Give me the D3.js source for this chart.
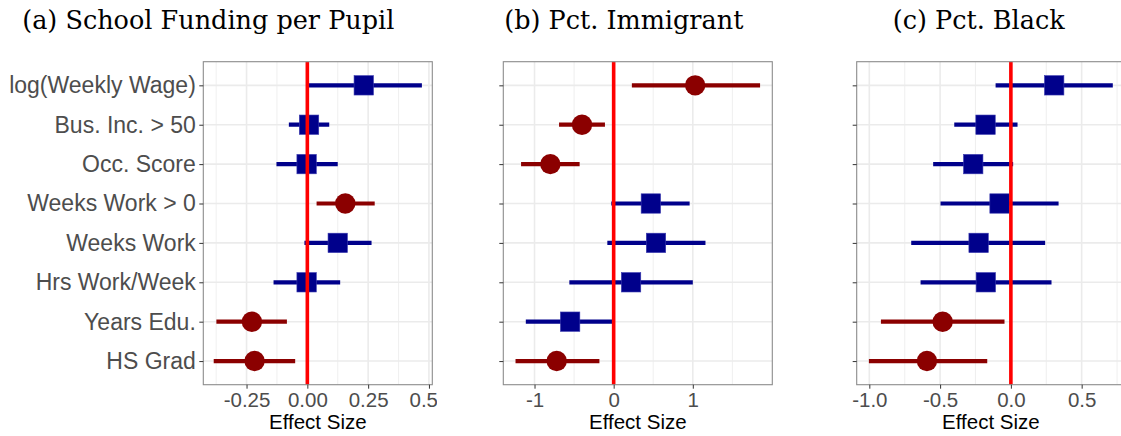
<!DOCTYPE html>
<html>
<head>
<meta charset="utf-8">
<script src="https://cdn.jsdelivr.net/npm/d3@7"></script>
<style>
  html, body { margin: 0; padding: 0; background: #fff; }
  svg { display: block; }
</style>
</head>
<body>
<svg id="chart"></svg>
<script>
const categories = [
  "log(Weekly Wage)", "Bus. Inc. > 50", "Occ. Score", "Weeks Work > 0",
  "Weeks Work", "Hrs Work/Week", "Years Edu.", "HS Grad"
];

// (a) School funding per pupil
const fundEst = [0.232, 0.007, -0.003, 0.156, 0.125, -0.003, -0.228, -0.217];
const fundLo = [-0.005, -0.076, -0.127, 0.038, -0.012, -0.139, -0.374, -0.385];
const fundHi = [0.471, 0.09, 0.125, 0.277, 0.264, 0.135, -0.084, -0.05];
const fundSig = [false, false, false, true, false, false, true, true];
const fundTicks = [-0.25, 0, 0.25, 0.5];
const fundTickLabels = ["-0.25", "0.00", "0.25", "0.50"];
const fundMinor = [-0.375, -0.125, 0.125, 0.375];

// (b) Pct. immigrant
const immEst = [1.03, -0.4, -0.8, 0.47, 0.535, 0.22, -0.55, -0.72];
const immLo = [0.23, -0.69, -1.17, -0.03, -0.08, -0.56, -1.11, -1.24];
const immHi = [1.85, -0.11, -0.43, 0.96, 1.16, 1.0, -0.01, -0.18];
const immSig = [true, true, true, false, false, false, false, true];
const immTicks = [-1, 0, 1];
const immTickLabels = ["-1", "0", "1"];
const immMinor = [-0.5, 0.5, 1.5];

// (c) Pct. black
const blackEst = [0.306, -0.179, -0.266, -0.08, -0.228, -0.177, -0.482, -0.593];
const blackLo = [-0.108, -0.4, -0.549, -0.497, -0.704, -0.638, -0.918, -1.003];
const blackHi = [0.72, 0.047, 0.016, 0.337, 0.242, 0.287, -0.045, -0.167];
const blackSig = [false, false, false, false, false, false, true, true];
const blackTicks = [-1, -0.5, 0, 0.5];
const blackTickLabels = ["-1.0", "-0.5", "0.0", "0.5"];
const blackMinor = [-0.75, -0.25, 0.25, 0.75];

const titles = ["(a) School Funding per Pupil", "(b) Pct. Immigrant", "(c) Pct. Black"];

const width = 1121;
const height = 436;
const plotTop = 61.7;
const plotBottom = 384.7;
const blue = "#00008B";
const red = "#8B0000";
const sans = "'Liberation Sans', Arial, Helvetica, sans-serif";

const panels = [
  { title: titles[0], est: fundEst, lo: fundLo, hi: fundHi, sig: fundSig,
    ticks: fundTicks, tickLabels: fundTickLabels, minor: fundMinor,
    left: 203.3, right: 432.3, titleX: 208.3, clipLeft: 0, clipRight: 437, showLabels: true },
  { title: titles[1], est: immEst, lo: immLo, hi: immHi, sig: immSig,
    ticks: immTicks, tickLabels: immTickLabels, minor: immMinor,
    left: 503.3, right: 772.3, titleX: 623.8, clipLeft: 440, clipRight: 790, showLabels: false },
  { title: titles[2], est: blackEst, lo: blackLo, hi: blackHi, sig: blackSig,
    ticks: blackTicks, tickLabels: blackTickLabels, minor: blackMinor,
    left: 856.7, right: 1125, titleX: 978.7, clipLeft: 790, clipRight: 1121, showLabels: false }
];

const svg = d3.select("#chart")
  .attr("width", width)
  .attr("height", height)
  .attr("viewBox", `0 0 ${width} ${height}`);

svg.append("rect").attr("width", width).attr("height", height).attr("fill", "#fff");

const defs = svg.append("defs");

const yScale = d3.scalePoint()
  .domain(categories)
  .range([plotTop, plotBottom])
  .padding(0.6);

panels.forEach((p, k) => {
  const rows = categories.map((c, i) => ({
    cat: c, est: p.est[i], lo: p.lo[i], hi: p.hi[i], sig: p.sig[i]
  }));

  // ggplot-style 5% expansion
  const mn = d3.min(p.lo);
  const mx = d3.max(p.hi);
  const pad = (mx - mn) * 0.05;
  const x = d3.scaleLinear().domain([mn - pad, mx + pad]).range([p.left, p.right]);

  defs.append("clipPath").attr("id", `clip${k}`)
    .append("rect")
    .attr("x", p.clipLeft)
    .attr("y", 0)
    .attr("width", p.clipRight - p.clipLeft)
    .attr("height", height);

  const g = svg.append("g").attr("clip-path", `url(#clip${k})`);

  // title
  g.append("text")
    .attr("x", p.titleX)
    .attr("y", 28.5)
    .attr("text-anchor", "middle")
    .attr("font-family", "'DejaVu Serif', serif")
    .attr("font-size", 25.5)
    .attr("fill", "#000")
    .text(p.title);

  // grid
  g.selectAll(".minor")
    .data(p.minor)
    .join("line")
    .attr("x1", (d) => x(d)).attr("x2", (d) => x(d))
    .attr("y1", plotTop).attr("y2", plotBottom)
    .attr("stroke", "#EBEBEB").attr("stroke-width", 0.8);

  g.selectAll(".major")
    .data(p.ticks)
    .join("line")
    .attr("x1", (d) => x(d)).attr("x2", (d) => x(d))
    .attr("y1", plotTop).attr("y2", plotBottom)
    .attr("stroke", "#EBEBEB").attr("stroke-width", 1.6);

  g.selectAll(".hgrid")
    .data(categories)
    .join("line")
    .attr("x1", p.left).attr("x2", p.right)
    .attr("y1", (d) => yScale(d)).attr("y2", (d) => yScale(d))
    .attr("stroke", "#EBEBEB").attr("stroke-width", 1.6);

  // error bars
  g.selectAll(".bar")
    .data(rows)
    .join("line")
    .attr("x1", (d) => x(d.lo)).attr("x2", (d) => x(d.hi))
    .attr("y1", (d) => yScale(d.cat)).attr("y2", (d) => yScale(d.cat))
    .attr("stroke", (d) => (d.sig ? red : blue))
    .attr("stroke-width", 4.2);

  // points: red circle when significant, blue square otherwise
  g.selectAll(".pt")
    .data(rows)
    .join((enter) => enter.append((d) =>
      document.createElementNS("http://www.w3.org/2000/svg", d.sig ? "circle" : "rect")))
    .each(function (d) {
      const el = d3.select(this);
      if (d.sig) {
        el.attr("cx", x(d.est)).attr("cy", yScale(d.cat)).attr("r", 10.2).attr("fill", red);
      } else {
        el.attr("x", x(d.est) - 9.7).attr("y", yScale(d.cat) - 9.7)
          .attr("width", 19.4).attr("height", 19.4)
          .attr("fill", blue).attr("stroke", "#3a3ab0").attr("stroke-width", 0.6);
      }
    });

  // zero line
  g.append("line")
    .attr("x1", x(0)).attr("x2", x(0))
    .attr("y1", plotTop).attr("y2", plotBottom)
    .attr("stroke", "#FF0000").attr("stroke-width", 3.6);

  // panel border
  g.append("rect")
    .attr("x", p.left).attr("y", plotTop)
    .attr("width", p.right - p.left).attr("height", plotBottom - plotTop)
    .attr("fill", "none").attr("stroke", "#8c8c8c").attr("stroke-width", 1.1);

  // axes
  const xAxis = d3.axisBottom(x)
    .tickValues(p.ticks)
    .tickFormat((d, i) => p.tickLabels[i])
    .tickSize(4)
    .tickPadding(4);

  const xg = g.append("g")
    .attr("transform", `translate(0, ${plotBottom})`)
    .call(xAxis);
  xg.select(".domain").remove();
  xg.selectAll(".tick line").attr("stroke", "#333").attr("stroke-width", 1);
  xg.selectAll(".tick text")
    .attr("font-family", sans)
    .attr("font-size", 20.5)
    .attr("fill", "#4D4D4D");

  const yAxis = d3.axisLeft(yScale)
    .tickSize(4)
    .tickPadding(3.5)
    .tickFormat((d) => (p.showLabels ? d : ""));

  const yg = g.append("g")
    .attr("transform", `translate(${p.left}, 0)`)
    .call(yAxis);
  yg.select(".domain").remove();
  yg.selectAll(".tick line").attr("stroke", "#333").attr("stroke-width", 1);
  yg.selectAll(".tick text")
    .attr("font-family", sans)
    .attr("font-size", 23)
    .attr("fill", "#4D4D4D");

  g.append("text")
    .attr("x", (p.left + p.right) / 2)
    .attr("y", 429)
    .attr("text-anchor", "middle")
    .attr("font-family", sans)
    .attr("font-size", 20.5)
    .attr("fill", "#000")
    .text("Effect Size");
});
</script>
</body>
</html>
